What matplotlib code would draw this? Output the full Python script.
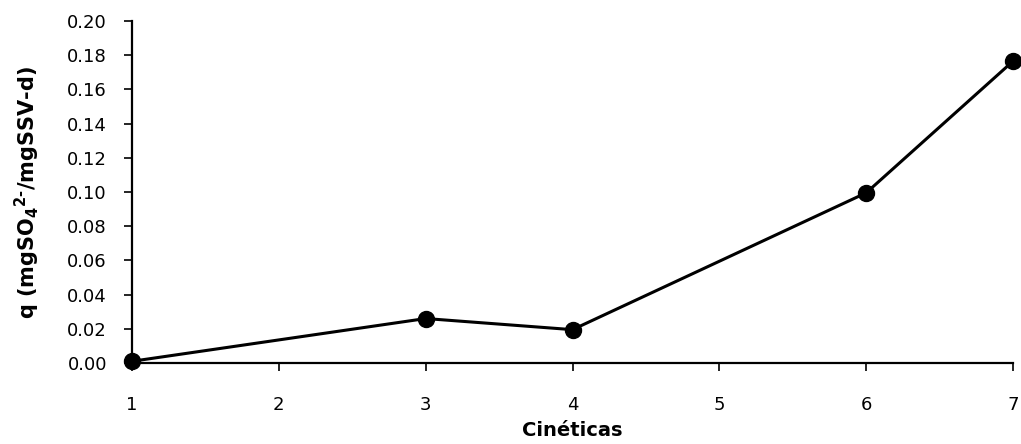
import matplotlib.pyplot as plt

# data
cineticas = [1, 3, 4, 6, 7]
q = [0.001, 0.026, 0.0195, 0.0995, 0.1765]
xticks = [1, 2, 3, 4, 5, 6, 7]
yticks = [0.00, 0.02, 0.04, 0.06, 0.08, 0.10, 0.12, 0.14, 0.16, 0.18, 0.20]

plt.rcParams['font.family'] = ['DejaVu Sans']
plt.rcParams['mathtext.default'] = 'regular'

fig = plt.figure(figsize=(10.21, 4.44), dpi=100)
ax = fig.add_axes([132 / 1021, 1 - 363 / 444, (1013 - 132) / 1021, (363 - 21) / 444])

ax.plot(cineticas, q, color='black', linewidth=2.2, marker='o',
        markersize=11.5, markerfacecolor='black', markeredgecolor='black',
        clip_on=False, zorder=3)

ax.set_xlim(1, 7)
ax.set_ylim(0, 0.20)
ax.set_xticks(xticks)
ax.set_yticks(yticks)
ax.set_yticklabels([f'{v:.2f}' for v in yticks])

for side in ['top', 'right']:
    ax.spines[side].set_visible(False)
for side in ['left', 'bottom']:
    ax.spines[side].set_linewidth(1.6)

ax.tick_params(axis='both', length=6, width=1.2, labelsize=13, colors='black')
ax.tick_params(axis='x', pad=18)
ax.tick_params(axis='y', pad=12)

ax.set_xlabel('Cinéticas', fontsize=14, fontweight='bold', labelpad=5)
ax.set_ylabel('q (mgSO$_4$$^{2\u2010}$/mgSSV\u2010d)', fontsize=15,
              fontweight='bold', labelpad=18)

fig.savefig('out.png', dpi=100)
